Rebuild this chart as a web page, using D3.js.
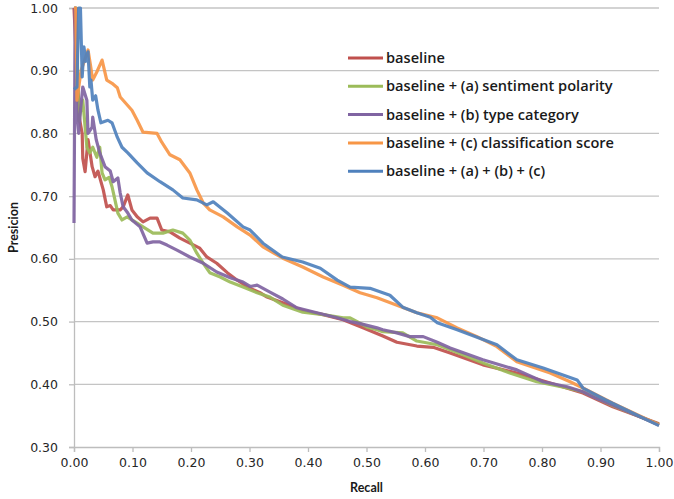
<!DOCTYPE html>
<html>
<head>
<meta charset="utf-8">
<script src="https://cdn.jsdelivr.net/npm/d3@7"></script>
<style>
  body { margin: 0; background: #fff; }
  .tick text { font-family: "DejaVu Sans", sans-serif; font-size: 12.5px; fill: #262626; }
</style>
</head>
<body>
<script>
// Chart size and plot margins
var w = 674;
var h = 499;
var margin = {top: 8, right: 15, bottom: 52, left: 74};
var innerW = w - margin.left - margin.right;
var innerH = h - margin.top - margin.bottom;

// Series names (legend order) and their colours
var seriesNames = [
  "baseline",
  "baseline + (a) sentiment polarity",
  "baseline + (b) type category",
  "baseline + (c) classification score",
  "baseline + (a) + (b) + (c)"
];
var colors = ["#c0504d", "#9bbb59", "#8064a2", "#f79646", "#4f81bd"];

// Tick values
var xTicks = [0, 0.1, 0.2, 0.3, 0.4, 0.5, 0.6, 0.7, 0.8, 0.9, 1.0];
var yTicks = [0.3, 0.4, 0.5, 0.6, 0.7, 0.8, 0.9, 1.0];

// [recall, precision] points
var baseline = [[0,1.0],[0.005,0.90],[0.010,0.82],[0.014,0.80],[0.015,0.76],[0.019,0.739],[0.024,0.79],[0.031,0.747],[0.036,0.731],[0.041,0.74],[0.050,0.71],[0.056,0.683],[0.062,0.685],[0.067,0.678],[0.079,0.678],[0.084,0.683],[0.092,0.702],[0.099,0.678],[0.108,0.667],[0.118,0.659],[0.130,0.665],[0.142,0.665],[0.150,0.646],[0.164,0.643],[0.181,0.633],[0.198,0.625],[0.215,0.617],[0.227,0.603],[0.244,0.593],[0.262,0.578],[0.279,0.566],[0.301,0.553],[0.318,0.546],[0.330,0.539],[0.357,0.53],[0.391,0.518],[0.426,0.511],[0.460,0.503],[0.494,0.49],[0.528,0.477],[0.552,0.467],[0.586,0.461],[0.614,0.459],[0.643,0.45],[0.699,0.431],[0.757,0.418],[0.814,0.402],[0.870,0.386],[0.921,0.364],[1.0,0.337]];

var sentiment = [[0,1.0],[0.004,1.0],[0.008,0.82],[0.015,0.853],[0.022,0.778],[0.027,0.769],[0.032,0.778],[0.039,0.762],[0.044,0.778],[0.048,0.737],[0.053,0.726],[0.060,0.73],[0.065,0.715],[0.070,0.694],[0.075,0.673],[0.082,0.662],[0.091,0.667],[0.099,0.662],[0.108,0.657],[0.118,0.651],[0.135,0.641],[0.152,0.641],[0.169,0.646],[0.186,0.641],[0.198,0.63],[0.210,0.609],[0.221,0.593],[0.232,0.578],[0.250,0.571],[0.267,0.563],[0.289,0.555],[0.313,0.546],[0.335,0.539],[0.357,0.526],[0.391,0.515],[0.426,0.511],[0.460,0.506],[0.472,0.506],[0.484,0.50],[0.501,0.491],[0.518,0.487],[0.528,0.484],[0.562,0.482],[0.586,0.469],[0.621,0.463],[0.665,0.447],[0.699,0.434],[0.745,0.418],[0.791,0.404],[0.843,0.394],[0.870,0.388],[0.921,0.366],[1.0,0.336]];

var typeCategory = [[0,0.657],[0.002,1.0],[0.003,1.0],[0.005,0.83],[0.008,0.80],[0.010,0.826],[0.015,0.874],[0.022,0.853],[0.024,0.80],[0.031,0.81],[0.032,0.826],[0.038,0.79],[0.044,0.769],[0.053,0.747],[0.062,0.74],[0.067,0.723],[0.075,0.729],[0.079,0.705],[0.084,0.683],[0.092,0.673],[0.099,0.662],[0.113,0.651],[0.125,0.625],[0.135,0.627],[0.147,0.627],[0.159,0.622],[0.176,0.614],[0.198,0.603],[0.221,0.593],[0.244,0.579],[0.267,0.57],[0.289,0.563],[0.301,0.556],[0.313,0.558],[0.335,0.547],[0.357,0.536],[0.381,0.522],[0.415,0.514],[0.450,0.506],[0.472,0.50],[0.484,0.498],[0.518,0.49],[0.528,0.487],[0.552,0.482],[0.574,0.476],[0.597,0.476],[0.621,0.467],[0.643,0.458],[0.699,0.439],[0.757,0.423],[0.802,0.404],[0.843,0.396],[0.870,0.388],[0.892,0.378],[0.921,0.367],[1.0,0.335]];

var classification = [[0,1.0],[0.003,1.0],[0.005,0.853],[0.012,0.90],[0.024,0.933],[0.028,0.91],[0.032,0.885],[0.040,0.90],[0.048,0.917],[0.056,0.885],[0.065,0.88],[0.074,0.873],[0.079,0.858],[0.099,0.837],[0.108,0.821],[0.118,0.802],[0.142,0.80],[0.150,0.786],[0.164,0.766],[0.181,0.758],[0.198,0.737],[0.210,0.71],[0.221,0.689],[0.232,0.678],[0.255,0.667],[0.279,0.651],[0.301,0.638],[0.323,0.619],[0.357,0.601],[0.391,0.587],[0.426,0.571],[0.460,0.558],[0.489,0.546],[0.518,0.538],[0.552,0.526],[0.586,0.514],[0.621,0.506],[0.655,0.49],[0.689,0.476],[0.723,0.46],[0.757,0.436],[0.814,0.418],[0.848,0.404],[0.870,0.394],[0.921,0.37],[1.0,0.335]];

var combined = [[0,0.87],[0.005,0.874],[0.008,1.0],[0.011,1.0],[0.014,0.89],[0.017,0.938],[0.020,0.915],[0.024,0.93],[0.027,0.874],[0.029,0.885],[0.032,0.853],[0.037,0.86],[0.041,0.837],[0.046,0.817],[0.058,0.821],[0.065,0.817],[0.074,0.794],[0.082,0.778],[0.092,0.769],[0.108,0.753],[0.125,0.737],[0.147,0.723],[0.169,0.71],[0.186,0.697],[0.210,0.694],[0.227,0.686],[0.238,0.691],[0.262,0.673],[0.289,0.651],[0.301,0.646],[0.323,0.625],[0.356,0.603],[0.391,0.595],[0.421,0.585],[0.450,0.566],[0.472,0.555],[0.506,0.553],[0.540,0.542],[0.562,0.523],[0.586,0.514],[0.609,0.507],[0.621,0.498],[0.655,0.487],[0.689,0.475],[0.723,0.463],[0.757,0.439],[0.802,0.426],[0.860,0.407],[0.870,0.394],[0.909,0.375],[1.0,0.334]];

var allSeries = [baseline, sentiment, typeCategory, classification, combined];

// Scales
var xScale = d3.scaleLinear().domain([0, 1]).range([0, innerW]);
var yScale = d3.scaleLinear().domain([0.3, 1]).range([innerH, 0]);

var svg = d3.select("body")
            .append("svg")
            .attr("width", w)
            .attr("height", h);

var g = svg.append("g")
           .attr("transform", "translate(" + margin.left + "," + margin.top + ")");

// Horizontal gridlines
g.append("g")
 .selectAll("line")
 .data(yTicks.slice(1))
 .enter()
 .append("line")
 .attr("x1", 0)
 .attr("x2", innerW)
 .attr("y1", function(d) { return yScale(d); })
 .attr("y2", function(d) { return yScale(d); })
 .attr("stroke", "#c4c4c4")
 .attr("stroke-width", 1.3);

// Y axis
var yAxis = g.append("g")
             .call(d3.axisLeft(yScale).tickValues(yTicks).tickFormat(d3.format(".2f")).tickSize(5).tickPadding(11));
yAxis.selectAll("line, path").attr("stroke", "#bdbdbd").attr("stroke-width", 1.3);

// X axis
var xAxis = g.append("g")
             .attr("transform", "translate(0," + innerH + ")")
             .call(d3.axisBottom(xScale).tickValues(xTicks).tickFormat(d3.format(".2f")).tickSize(5).tickPadding(6));
xAxis.selectAll("line, path").attr("stroke", "#bdbdbd").attr("stroke-width", 1.3);

// Lines, in legend order so the combined curve sits on top
var line = d3.line()
             .x(function(d) { return xScale(d[0]); })
             .y(function(d) { return yScale(d[1]); });

g.selectAll(".curve")
 .data(allSeries)
 .enter()
 .append("path")
 .attr("class", "curve")
 .attr("d", line)
 .attr("fill", "none")
 .attr("stroke", function(d, i) { return colors[i]; })
 .attr("stroke-width", 3.2)
 .attr("stroke-linejoin", "round")
 .attr("opacity", 0.92);

// Legend
var legend = svg.append("g").attr("transform", "translate(348,58)");
var items = legend.selectAll("g")
                  .data(seriesNames)
                  .enter()
                  .append("g")
                  .attr("transform", function(d, i) { return "translate(0," + (i * 28.3) + ")"; });
items.append("line")
     .attr("x1", 0).attr("x2", 35)
     .attr("stroke", function(d, i) { return colors[i]; })
     .attr("stroke-width", 3);
items.append("text")
     .attr("x", 38)
     .attr("dy", "0.35em")
     .attr("font-family", "Open Sans, sans-serif")
     .attr("font-size", "14.6px")
     .attr("font-weight", 600)
     .attr("fill", "#1a1a1a")
     .text(function(d) { return d; });

// Axis titles
svg.append("text")
   .attr("x", margin.left + innerW / 2)
   .attr("y", 492)
   .attr("text-anchor", "middle")
   .attr("font-family", "Lato, sans-serif")
   .attr("font-weight", "bold")
   .attr("font-size", "12.5px")
   .attr("fill", "#1a1a1a")
   .text("Recall");

svg.append("text")
   .attr("transform", "translate(18," + (margin.top + innerH / 2) + ") rotate(-90)")
   .attr("text-anchor", "middle")
   .attr("font-family", "Lato, sans-serif")
   .attr("font-weight", "bold")
   .attr("font-size", "12.5px")
   .attr("fill", "#1a1a1a")
   .text("Presicion");
</script>
</body>
</html>
